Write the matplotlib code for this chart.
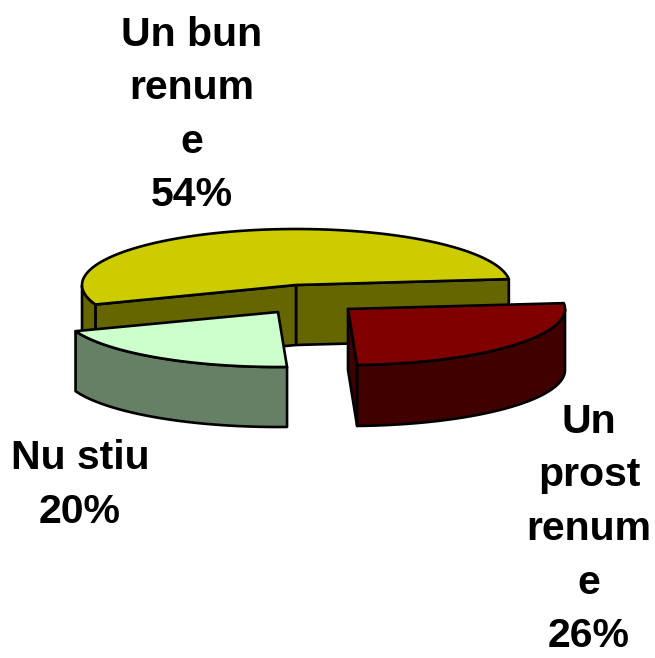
import matplotlib
matplotlib.use('Agg')
import matplotlib.pyplot as plt
import numpy as np
from matplotlib.patches import Polygon

# valori
categories = ['Un bun\nrenum\ne', 'Nu stiu', 'Un\nprost\nrenum\ne']
values = [54, 20, 26]
top_colors = ['#CCCC00', '#CCFFCC', '#800000']
side_colors = ['#666600', '#668066', '#400000']

# aranjare in pixeli: centru felie, raze elipsa, inaltime
centers = [(296, 285), (278, 312), (348, 309)]
radii_x = [214, 216, 217]
radii_y = [56, 55, 56]
depths = [60, 60, 61]
label_pos = [(192, 115), (80, 485), (589, 529)]

start_angle = 6
lw = 1.9

plt.rcParams['font.family'] = ['Liberation Sans', 'DejaVu Sans']
fig = plt.figure(figsize=(6.55, 6.58), dpi=100)
ax = fig.add_axes([0, 0, 1, 1])
ax.set_xlim(0, 655)
ax.set_ylim(658, 0)
ax.axis('off')


def add_poly(pts, color, z):
    ax.add_patch(Polygon(pts, closed=True, facecolor=color, edgecolor='black',
                         linewidth=lw, joinstyle='round', zorder=z))


angles = start_angle + np.cumsum([0] + values) * 3.6
for i in range(len(values)):
    cx, cy = centers[i]
    a, b, d = radii_x[i], radii_y[i], depths[i]
    t0, t1 = angles[i], angles[i + 1]
    t = np.radians(np.linspace(t0, t1, 120))
    arc = np.column_stack([cx + a * np.cos(t), cy - b * np.sin(t)])
    z = (i + 1) * 10

    # peretii interiori, vizibili doar daca sunt orientati spre privitor
    if i == 0:
        add_poly([arc[0], (cx, cy), (cx, cy + d), arc[0] + (0, d)], side_colors[i], z)
        add_poly([arc[-1], (cx, cy), (cx, cy + d), arc[-1] + (0, d)], side_colors[i], z)
    if i == 2:
        add_poly([(cx, cy), arc[0], arc[0] + (0, d), (cx, cy + d)], side_colors[i], z)

    # peretele exterior, partea din fata a elipsei
    s = np.sin(t) <= 0
    if s.any():
        front = arc[s]
        add_poly(np.vstack([front, front[::-1] + (0, d)]), side_colors[i], z + 1)

    add_poly(np.vstack([[(cx, cy)], arc]), top_colors[i], z + 2)

    ax.text(label_pos[i][0], label_pos[i][1], f'{categories[i]}\n{values[i]}%',
            ha='center', va='center', multialignment='center', fontsize=29.5,
            fontweight='bold', color='black', linespacing=1.52, zorder=50)

fig.savefig('out.png', dpi=100)
